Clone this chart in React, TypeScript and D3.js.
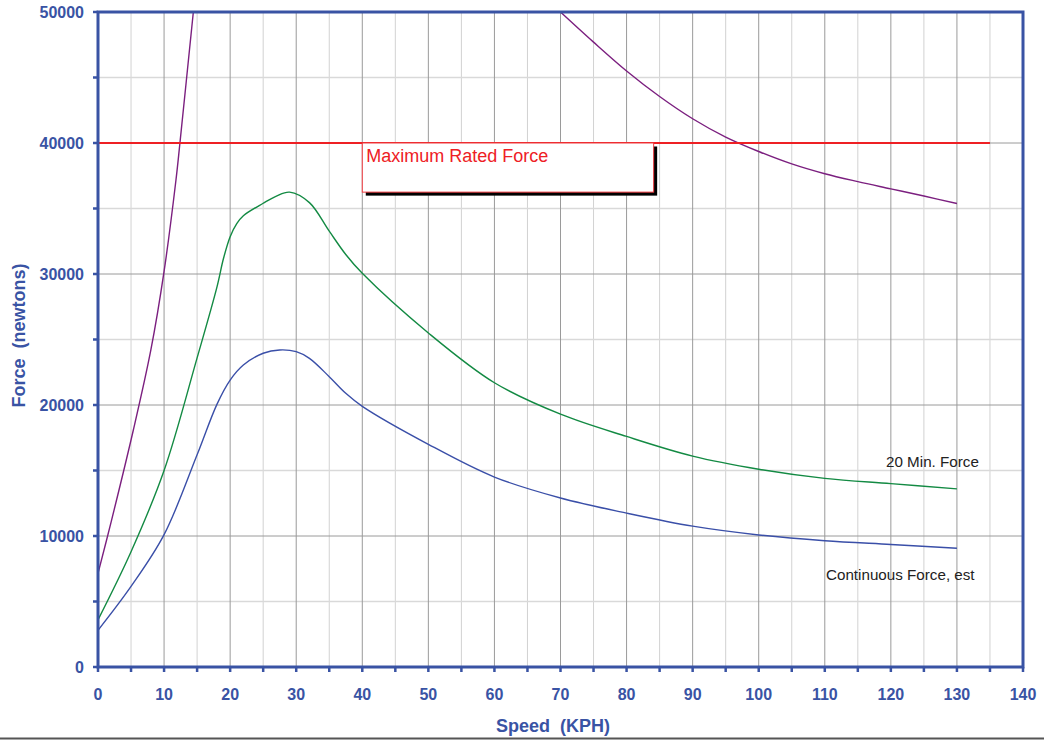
import React from "react";
import * as d3 from "d3";

const speeds20Min = [0, 5, 10, 15, 18, 19, 20, 21, 22, 25, 27, 29, 32, 35, 37.5, 40, 50, 60, 70, 80, 90, 100, 110, 120, 130];
const force20Min = [3600, 8800, 15000, 23600, 29000, 31200, 32850, 33850, 34450, 35400, 35950, 36250, 35450, 33270, 31490, 30050, 25500, 21700, 19300, 17600, 16100, 15100, 14400, 14000, 13600];

const speedsContinuous = [0, 5, 10, 15, 18, 20, 22, 25, 27.5, 30, 32, 35, 37.5, 40, 50, 60, 70, 80, 90, 100, 110, 120, 130];
const forceContinuous = [2800, 6150, 10100, 16200, 20050, 21900, 23050, 23950, 24200, 24070, 23560, 22160, 20890, 19900, 17000, 14500, 12900, 11750, 10750, 10080, 9640, 9350, 9060];

const adhesionSpeeds = [0, 2, 5.35, 8, 10, 11.8, 12.4, 14.43];
const adhesionForce = [7150, 11100, 18090, 24200, 30200, 37176, 40000, 50000];

const powerSpeeds = [70, 75, 80, 85, 90, 95, 100, 105, 110, 115, 120, 125, 130];
const powerForce = [50000, 47700, 45500, 43550, 41850, 40450, 39350, 38400, 37650, 37050, 36500, 35950, 35380];

const maxRatedForce = 40000;
const maxRatedSpeedEnd = 135;

const xTicks = d3.range(0, 141, 10);
const yTicks = d3.range(0, 50001, 10000);
const xMinor = d3.range(5, 140, 10);
const yMinor = d3.range(5000, 50000, 10000);
const xTickMarks = d3.range(0, 141, 5);
const yTickMarks = d3.range(0, 50001, 5000);

const AXIS = "#3953A4";
const FONT = "'Liberation Sans', Arial, sans-serif";

export default function App() {
  const x = d3.scaleLinear().domain([0, 140]).range([98, 1023]);
  const y = d3.scaleLinear().domain([0, 50000]).range([667, 12]);

  const line = d3
    .line<[number, number]>()
    .x((d) => x(d[0]))
    .y((d) => y(d[1]))
    .curve(d3.curveCatmullRom.alpha(0.5));

  const zip = (a: number[], b: number[]) => a.map((v, i) => [v, b[i]] as [number, number]);

  const boxX0 = x(40);
  const boxX1 = x(84.1);
  const boxY0 = y(40000);
  const boxY1 = y(36250);

  return (
    <svg width={1044} height={740} style={{ position: "absolute", left: 0, top: 0, background: "#fff" }} fontFamily={FONT}>
      <rect x={0} y={0} width={1044} height={740} fill="#fff" />
      {/* minor grid */}
      {xMinor.map((t) => (
        <line key={"xm" + t} x1={x(t)} x2={x(t)} y1={y(50000)} y2={y(0)} stroke="#d2d2d2" strokeWidth={1} />
      ))}
      {yMinor.map((t) => (
        <line key={"ym" + t} x1={x(0)} x2={x(140)} y1={y(t)} y2={y(t)} stroke="#d9d9d9" strokeWidth={1.5} />
      ))}
      {/* major grid */}
      {xTicks.map((t) => (
        <line key={"xg" + t} x1={x(t)} x2={x(t)} y1={y(50000)} y2={y(0)} stroke="#9a9a9a" strokeWidth={1} />
      ))}
      {yTicks.map((t) => (
        <line key={"yg" + t} x1={x(0)} x2={x(140)} y1={y(t)} y2={y(t)} stroke="#9a9a9a" strokeWidth={1} />
      ))}

      {/* curves */}
      <path d={line(zip(adhesionSpeeds, adhesionForce)) || ""} fill="none" stroke="#7B1F7F" strokeWidth={1.4} />
      <path d={line(zip(powerSpeeds, powerForce)) || ""} fill="none" stroke="#7B1F7F" strokeWidth={1.4} />
      <path d={line(zip(speeds20Min, force20Min)) || ""} fill="none" stroke="#138A43" strokeWidth={1.4} />
      <path d={line(zip(speedsContinuous, forceContinuous)) || ""} fill="none" stroke="#3A4FA8" strokeWidth={1.4} />

      {/* max rated force line */}
      <line x1={x(0) - 5} x2={x(maxRatedSpeedEnd)} y1={y(maxRatedForce)} y2={y(maxRatedForce)} stroke="#EE2024" strokeWidth={2.2} />

      {/* annotation box */}
      <rect x={boxX0 + 3.5} y={boxY0 + 3.5} width={boxX1 - boxX0} height={boxY1 - boxY0} fill="#000" />
      <rect x={boxX0} y={boxY0} width={boxX1 - boxX0} height={boxY1 - boxY0} fill="#fff" stroke="#EE3A3F" strokeWidth={1} />
      <text x={boxX0 + 4} y={boxY0 + 18.5} fontSize={18} fill="#EE2024">Maximum Rated Force</text>

      {/* series labels */}
      <text x={886} y={467} fontSize={15.2} fill="#222">20 Min. Force</text>
      <text x={826} y={579.5} fontSize={15.2} fill="#222">Continuous Force, est</text>

      {/* frame */}
      <rect x={x(0)} y={y(50000)} width={x(140) - x(0)} height={y(0) - y(50000)} fill="none" stroke={AXIS} strokeWidth={3} />
      {xTickMarks.map((t) => (
        <line key={"xt" + t} x1={x(t)} x2={x(t)} y1={y(0)} y2={y(0) + 5} stroke={AXIS} strokeWidth={2.5} />
      ))}
      {yTickMarks.map((t) => (
        <line key={"yt" + t} x1={x(0) - 5} x2={x(0)} y1={y(t)} y2={y(t)} stroke={AXIS} strokeWidth={2.5} />
      ))}

      {/* tick labels */}
      {xTicks.map((t) => (
        <text key={"xl" + t} x={x(t)} y={699.5} textAnchor="middle" fontSize={16} fontWeight="bold" fill={AXIS}>
          {t}
        </text>
      ))}
      {yTicks.map((t) => (
        <text key={"yl" + t} x={84} y={y(t)} dy="0.36em" textAnchor="end" fontSize={16} fontWeight="bold" fill={AXIS}>
          {t}
        </text>
      ))}

      {/* axis titles */}
      <text x={553} y={732} textAnchor="middle" fontSize={18} fontWeight="bold" fill={AXIS} style={{ whiteSpace: "pre" }}>
        {"Speed  (KPH)"}
      </text>
      <text
        transform={`translate(25,335.5) rotate(-90)`}
        textAnchor="middle"
        fontSize={18}
        fontWeight="bold"
        fill={AXIS}
        style={{ whiteSpace: "pre" }}
      >
        {"Force  (newtons)"}
      </text>

      {/* bottom border */}
      <line x1={0} x2={1044} y1={738.5} y2={738.5} stroke="#555" strokeWidth={2} />
    </svg>
  );
}
